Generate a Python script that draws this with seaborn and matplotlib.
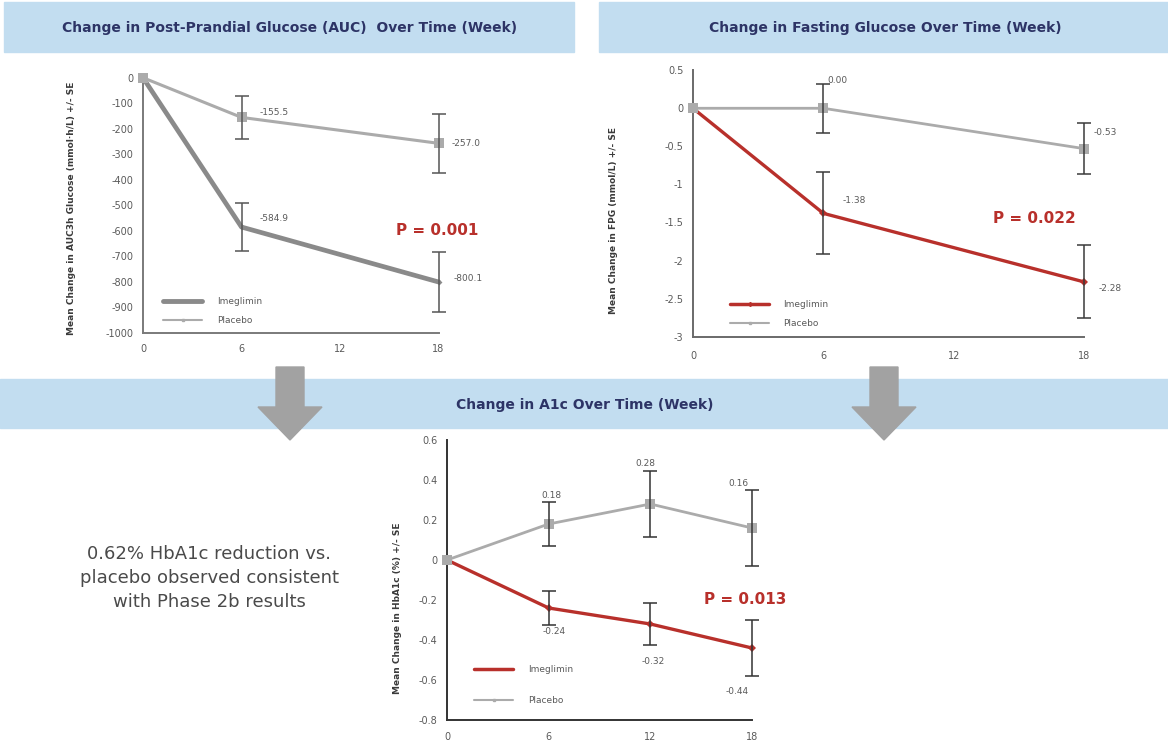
import matplotlib
matplotlib.use("Agg")
import matplotlib.pyplot as plt
import seaborn as sns
import pandas as pd
import numpy as np
from matplotlib.patches import Rectangle, Polygon
from matplotlib.lines import Line2D

sns.set_theme(style="white")
plt.rcParams['font.family'] = ['DejaVu Sans']

# ---- data ----
weeks_3 = [0, 6, 18]
weeks_4 = [0, 6, 12, 18]

ppg_imeg = [0, -584.9, -800.1]
ppg_imeg_se = [0, 95, 118]
ppg_plac = [0, -155.5, -257.0]
ppg_plac_se = [0, 84, 115]

fpg_imeg = [0, -1.38, -2.28]
fpg_imeg_se = [0, 0.54, 0.48]
fpg_plac = [0, 0.00, -0.53]
fpg_plac_se = [0, 0.32, 0.33]

a1c_imeg = [0, -0.24, -0.32, -0.44]
a1c_imeg_se = [0, 0.085, 0.105, 0.14]
a1c_plac = [0, 0.18, 0.28, 0.16]
a1c_plac_se = [0, 0.11, 0.165, 0.19]

ppg_yticks = [0, -100, -200, -300, -400, -500, -600, -700, -800, -900, -1000]
fpg_yticks = [0.5, 0, -0.5, -1, -1.5, -2, -2.5, -3]
fpg_yticklabels = ["0.5", "0", "-0.5", "-1", "-1.5", "-2", "-2.5", "-3"]
a1c_yticks = [0.6, 0.4, 0.2, 0, -0.2, -0.4, -0.6, -0.8]
a1c_yticklabels = ["0.6", "0.4", "0.2", "0", "-0.2", "-0.4", "-0.6", "-0.8"]
xticks = [0, 6, 12, 18]

series_names = ["Imeglimin", "Placebo"]
p_values = ["P = 0.001", "P = 0.022", "P = 0.013"]
titles = ["Change in Post-Prandial Glucose (AUC)  Over Time (Week)",
          "Change in Fasting Glucose Over Time (Week)",
          "Change in A1c Over Time (Week)"]
ylabels = ["Mean Change in AUC3h Glucose (mmol\u00b7h/L) +/- SE",
           "Mean Change in FPG (mmol/L) +/- SE",
           "Mean Change in HbA1c (%) +/- SE"]
note = "0.62% HbA1c reduction vs.\nplacebo observed consistent\nwith Phase 2b results"

RED = "#b8302b"
GREY_P = "#ababab"
GREY_I = "#8a8a8a"
BAND = "#c2ddf0"
NAVY = "#2d3466"
TXT = "#5a5a5a"

W, H = 1168, 744
fig = plt.figure(figsize=(W / 100, H / 100), dpi=100)


def px_axes(left, top, right, bottom):
    return fig.add_axes([left / W, 1 - bottom / H, (right - left) / W, (bottom - top) / H])


def fx(x):
    return x / W


def fy(y):
    return 1 - y / H


# header bands
for (x0, y0, x1, y1) in [(4, 2, 574, 52), (599, 2, 1168, 52), (0, 379, 1168, 428)]:
    fig.patches.append(Rectangle((fx(x0), fy(y1)), fx(x1 - x0), (y1 - y0) / H,
                                 transform=fig.transFigure, color=BAND, zorder=0))
fig.text(fx(290), fy(28), titles[0], ha="center", va="center", fontsize=10,
         fontweight="bold", color=NAVY)
fig.text(fx(885), fy(28), titles[1], ha="center", va="center", fontsize=10,
         fontweight="bold", color=NAVY)
fig.text(fx(585), fy(405), titles[2], ha="center", va="center", fontsize=10,
         fontweight="bold", color=NAVY, zorder=3)

# down arrows
for cx in [290, 884]:
    pts = [(cx - 14, 367), (cx + 14, 367), (cx + 14, 407), (cx + 32, 407),
           (cx, 440), (cx - 32, 407), (cx - 14, 407)]
    fig.patches.append(Polygon([(fx(a), fy(b)) for a, b in pts], closed=True,
                               transform=fig.transFigure, color="#a2a2a2", zorder=2))

fig.text(fx(209), fy(578), note, ha="center", va="center", fontsize=13,
         color="#4a4a4a", linespacing=1.45)


def style_axes(ax, spine_col, xpad):
    for s in ["top", "right"]:
        ax.spines[s].set_visible(False)
    for s in ["left", "bottom"]:
        ax.spines[s].set_color(spine_col)
        ax.spines[s].set_linewidth(1.4)
    ax.set_xlim(0, 18)
    ax.set_xticks(xticks)
    ax.set_xticklabels([str(t) for t in xticks])
    ax.tick_params(axis="both", length=0, labelsize=7, colors=TXT)
    ax.tick_params(axis="x", pad=xpad)
    ax.tick_params(axis="y", pad=7)
    ax.set_xlabel("")
    ax.set_ylabel("")
    ax.patch.set_alpha(0)


def draw_series(ax, weeks, vals, se, color, lw, marker, ms, ecol, cap):
    sns.lineplot(x=weeks, y=vals, ax=ax, color=color, linewidth=lw, marker=marker,
                 markersize=ms, markeredgewidth=0, clip_on=False, zorder=3)
    ax.errorbar(weeks[1:], vals[1:], yerr=se[1:], fmt="none", ecolor=ecol,
                elinewidth=1.1, capsize=cap, capthick=1.1, zorder=4, clip_on=False)


def value_labels(ax, weeks, vals, fmt, offsets, ha="left"):
    for w, v, (dx, dy) in zip(weeks[1:], vals[1:], offsets):
        ax.annotate(fmt.format(v), (w, v), xytext=(dx, dy), textcoords="offset pixels",
                    ha=ha, va="center", fontsize=6.5, color=TXT)


def add_legend(ax, handles, anchor, spacing):
    ax.legend(handles=handles, labels=series_names, loc="upper left", bbox_to_anchor=anchor,
              frameon=False, fontsize=6.5, handlelength=4.3, handletextpad=1.6,
              labelspacing=spacing, borderpad=0, labelcolor=TXT)


# ---- panel 1: post-prandial glucose ----
ax1 = px_axes(143, 77.7, 438.5, 333)
draw_series(ax1, weeks_3, ppg_imeg, ppg_imeg_se, GREY_I, 3.4, "D", 3, "#555555", 5)
draw_series(ax1, weeks_3, ppg_plac, ppg_plac_se, GREY_P, 2.2, "s", 7, "#555555", 5)
ax1.set_ylim(-1000, 0)
ax1.set_yticks(ppg_yticks)
ax1.set_yticklabels([str(t) for t in ppg_yticks])
style_axes(ax1, "#7a7a7a", 8)
value_labels(ax1, weeks_3, ppg_imeg, "{:.1f}", [(18, 9), (15, 3)])
value_labels(ax1, weeks_3, ppg_plac, "{:.1f}", [(18, 5), (13, 0)])
ax1.text(0.994, 0.403, p_values[0], transform=ax1.transAxes, ha="center", va="center",
         fontsize=11, fontweight="bold", color=RED)
add_legend(ax1, [Line2D([], [], color=GREY_I, lw=3.5),
                 Line2D([], [], color=GREY_P, lw=1.5, marker="s", ms=2)],
           (0.054, 0.158), 1.1)
fig.text(fx(71.5), fy(208), ylabels[0], rotation=90, ha="center", va="center",
         fontsize=6.5, fontweight="bold", color="#3a3a3a")

# ---- panel 2: fasting glucose ----
ax2 = px_axes(693, 70.2, 1084, 336.7)
draw_series(ax2, weeks_3, fpg_imeg, fpg_imeg_se, RED, 2.4, "D", 4, "#3a3a3a", 5)
draw_series(ax2, weeks_3, fpg_plac, fpg_plac_se, GREY_P, 2.0, "s", 7, "#3a3a3a", 5)
ax2.set_ylim(-3, 0.5)
ax2.set_yticks(fpg_yticks)
ax2.set_yticklabels(fpg_yticklabels)
style_axes(ax2, "#6a6a6a", 10)
value_labels(ax2, weeks_3, fpg_imeg, "{:.2f}", [(19, 13), (15, -7)])
value_labels(ax2, weeks_3, fpg_plac, "{:.2f}", [(4, 28), (10, 16)])
ax2.text(0.872, 0.445, p_values[1], transform=ax2.transAxes, ha="center", va="center",
         fontsize=11, fontweight="bold", color=RED)
add_legend(ax2, [Line2D([], [], color=RED, lw=2.5, marker="D", ms=2),
                 Line2D([], [], color=GREY_P, lw=1.5, marker="s", ms=2)],
           (0.084, 0.153), 1.1)
fig.text(fx(614), fy(220), ylabels[1], rotation=90, ha="center", va="center",
         fontsize=6.5, fontweight="bold", color="#3a3a3a")

# ---- panel 3: HbA1c ----
ax3 = px_axes(447, 440, 752, 720)
draw_series(ax3, weeks_4, a1c_imeg, a1c_imeg_se, RED, 2.4, "D", 4, "#333333", 5)
draw_series(ax3, weeks_4, a1c_plac, a1c_plac_se, GREY_P, 2.0, "s", 7, "#333333", 5)
ax3.set_ylim(-0.8, 0.6)
ax3.set_yticks(a1c_yticks)
ax3.set_yticklabels(a1c_yticklabels)
style_axes(ax3, "#333333", 9)
value_labels(ax3, weeks_4, a1c_imeg, "{:.2f}", [(5, -23), (3, -38), (-15, -44)], ha="center")
value_labels(ax3, weeks_4, a1c_plac, "{:.2f}", [(3, 29), (-5, 40), (-14, 44)], ha="center")
ax3.text(0.977, 0.429, p_values[2], transform=ax3.transAxes, ha="center", va="center",
         fontsize=11, fontweight="bold", color=RED)
add_legend(ax3, [Line2D([], [], color=RED, lw=2.5),
                 Line2D([], [], color=GREY_P, lw=1.5, marker="s", ms=2)],
           (0.075, 0.213), 2.5)
fig.text(fx(397), fy(608), ylabels[2], rotation=90, ha="center", va="center",
         fontsize=6.5, fontweight="bold", color="#3a3a3a")

fig.savefig("out.png", dpi=100)
